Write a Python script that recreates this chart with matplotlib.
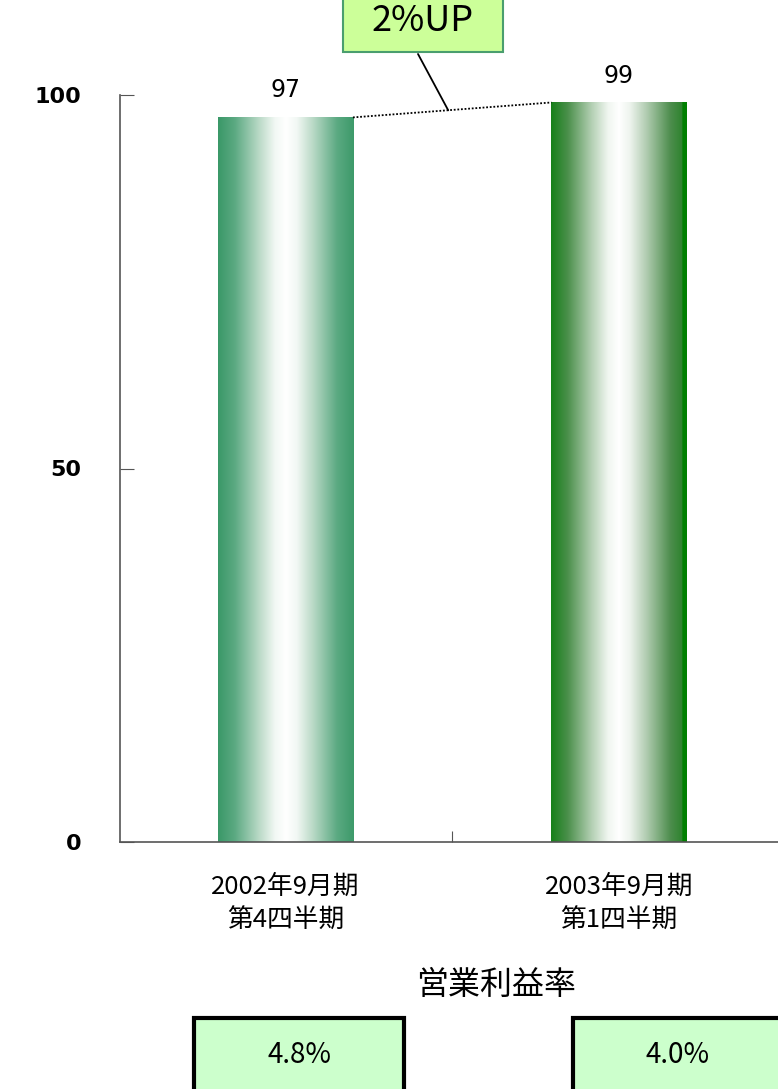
import numpy as np
import matplotlib.pyplot as plt
from matplotlib.colors import LinearSegmentedColormap
from matplotlib.patches import Rectangle

plt.rcParams['font.family'] = ['Noto Sans CJK JP', 'DejaVu Sans']

# データ
periods = ['2002年9月期\n第4四半期', '2003年9月期\n第1四半期']
values = [97, 99]
margins = ['4.8%', '4.0%']
growth_label = '2%UP'
margin_title = '営業利益率'
yticks = [0, 50, 100]

fig = plt.figure(figsize=(7.78, 10.89), dpi=100)
ax = fig.add_axes([120 / 778, 247 / 1089, 667 / 778, 747 / 1089])

x = np.arange(len(values))
width = 0.405
bars = ax.bar(x, values, width=width, color='none', edgecolor='none')

# グラデーション (端 -> 白 -> 端)
cmaps = [
    LinearSegmentedColormap.from_list('g1', [(0, '#3a9868'), (0.12, '#5aa981'), (0.3, '#b9d9c6'),
                                             (0.42, '#f2f8f4'), (0.5, '#ffffff'), (0.58, '#f2f8f4'),
                                             (0.7, '#b9d9c6'), (0.88, '#5aa981'), (1, '#3d9a6a')]),
    LinearSegmentedColormap.from_list('g2', [(0, '#17801a'), (0.12, '#4a8f4a'), (0.3, '#b4d0b4'),
                                             (0.42, '#f0f6f0'), (0.5, '#ffffff'), (0.58, '#eef4ee'),
                                             (0.7, '#b2cdb2'), (0.88, '#4d8d4d'), (0.965, '#2f842f'),
                                             (0.97, '#008000'), (1, '#008000')]),
]
grad = np.linspace(0, 1, 256).reshape(1, -1)
for b, cm in zip(bars, cmaps):
    x0, w, h = b.get_x(), b.get_width(), b.get_height()
    ax.imshow(grad, cmap=cm, aspect='auto', extent=[x0, x0 + w, 0, h], zorder=2)

ax.set_xlim(-0.496, 1.504)
ax.set_ylim(0, 100)

for b, v in zip(bars, values):
    ax.text(b.get_x() + b.get_width() / 2, v + 2.0, str(v), ha='center', va='bottom',
            fontsize=17, family='DejaVu Sans', clip_on=False)

# 点線
p1 = (bars[0].get_x() + width, values[0])
p2 = (bars[1].get_x(), values[1])
ax.plot([p1[0], p2[0]], [p1[1], p2[1]], color='black', lw=1.3, ls=(0, (1, 1)), zorder=3, clip_on=False)
mid = (p1[0] + 0.48 * (p2[0] - p1[0]), p1[1] + 0.48 * (p2[1] - p1[1]))

# 2%UP の吹き出し
fig.patches.append(Rectangle((343 / 778, 1 - 52 / 1089), 160 / 778, 60 / 1089,
                             transform=fig.transFigure, fc='#ccff99', ec='#4a9e6e', lw=1.5))
fig.text(423 / 778, 1 - 21 / 1089, growth_label, ha='center', va='center', fontsize=26)
ax.annotate('', xy=mid, xycoords='data', xytext=(418 / 778, 1 - 54 / 1089),
            textcoords='figure fraction',
            arrowprops=dict(arrowstyle='-', color='black', lw=1.3, shrinkA=0, shrinkB=0))

ax.spines['top'].set_visible(False)
ax.spines['right'].set_visible(False)
for s in ['left', 'bottom']:
    ax.spines[s].set_color('#555555')
    ax.spines[s].set_linewidth(1.2)

ax.set_yticks(yticks)
ax.set_yticklabels([str(t) for t in yticks], fontsize=16, fontweight='bold', family='DejaVu Sans')
ax.tick_params(axis='y', direction='in', length=10, pad=28, color='#555555')
ax.set_xticks([0.5])
ax.set_xticklabels([''])
ax.tick_params(axis='x', direction='in', length=8, color='#555555')

for xi, lab in zip(x, periods):
    ax.text(xi, -4.3, lab, ha='center', va='top', fontsize=18.5, linespacing=1.4, clip_on=False)

fig.text(496 / 778, 1 - 985 / 1089, margin_title, ha='center', va='center', fontsize=23)

box_x = [194, 573]
for bx, m in zip(box_x, margins):
    fig.patches.append(Rectangle((bx / 778, -0.01), 210 / 778, (1089 - 1018) / 1089 + 0.01,
                                 transform=fig.transFigure, fc='#ccffcc', ec='black', lw=3))
    fig.text((bx + 105) / 778, 1 - 1055 / 1089, m, ha='center', va='center', fontsize=20)

fig.savefig('out.png', dpi=100)
